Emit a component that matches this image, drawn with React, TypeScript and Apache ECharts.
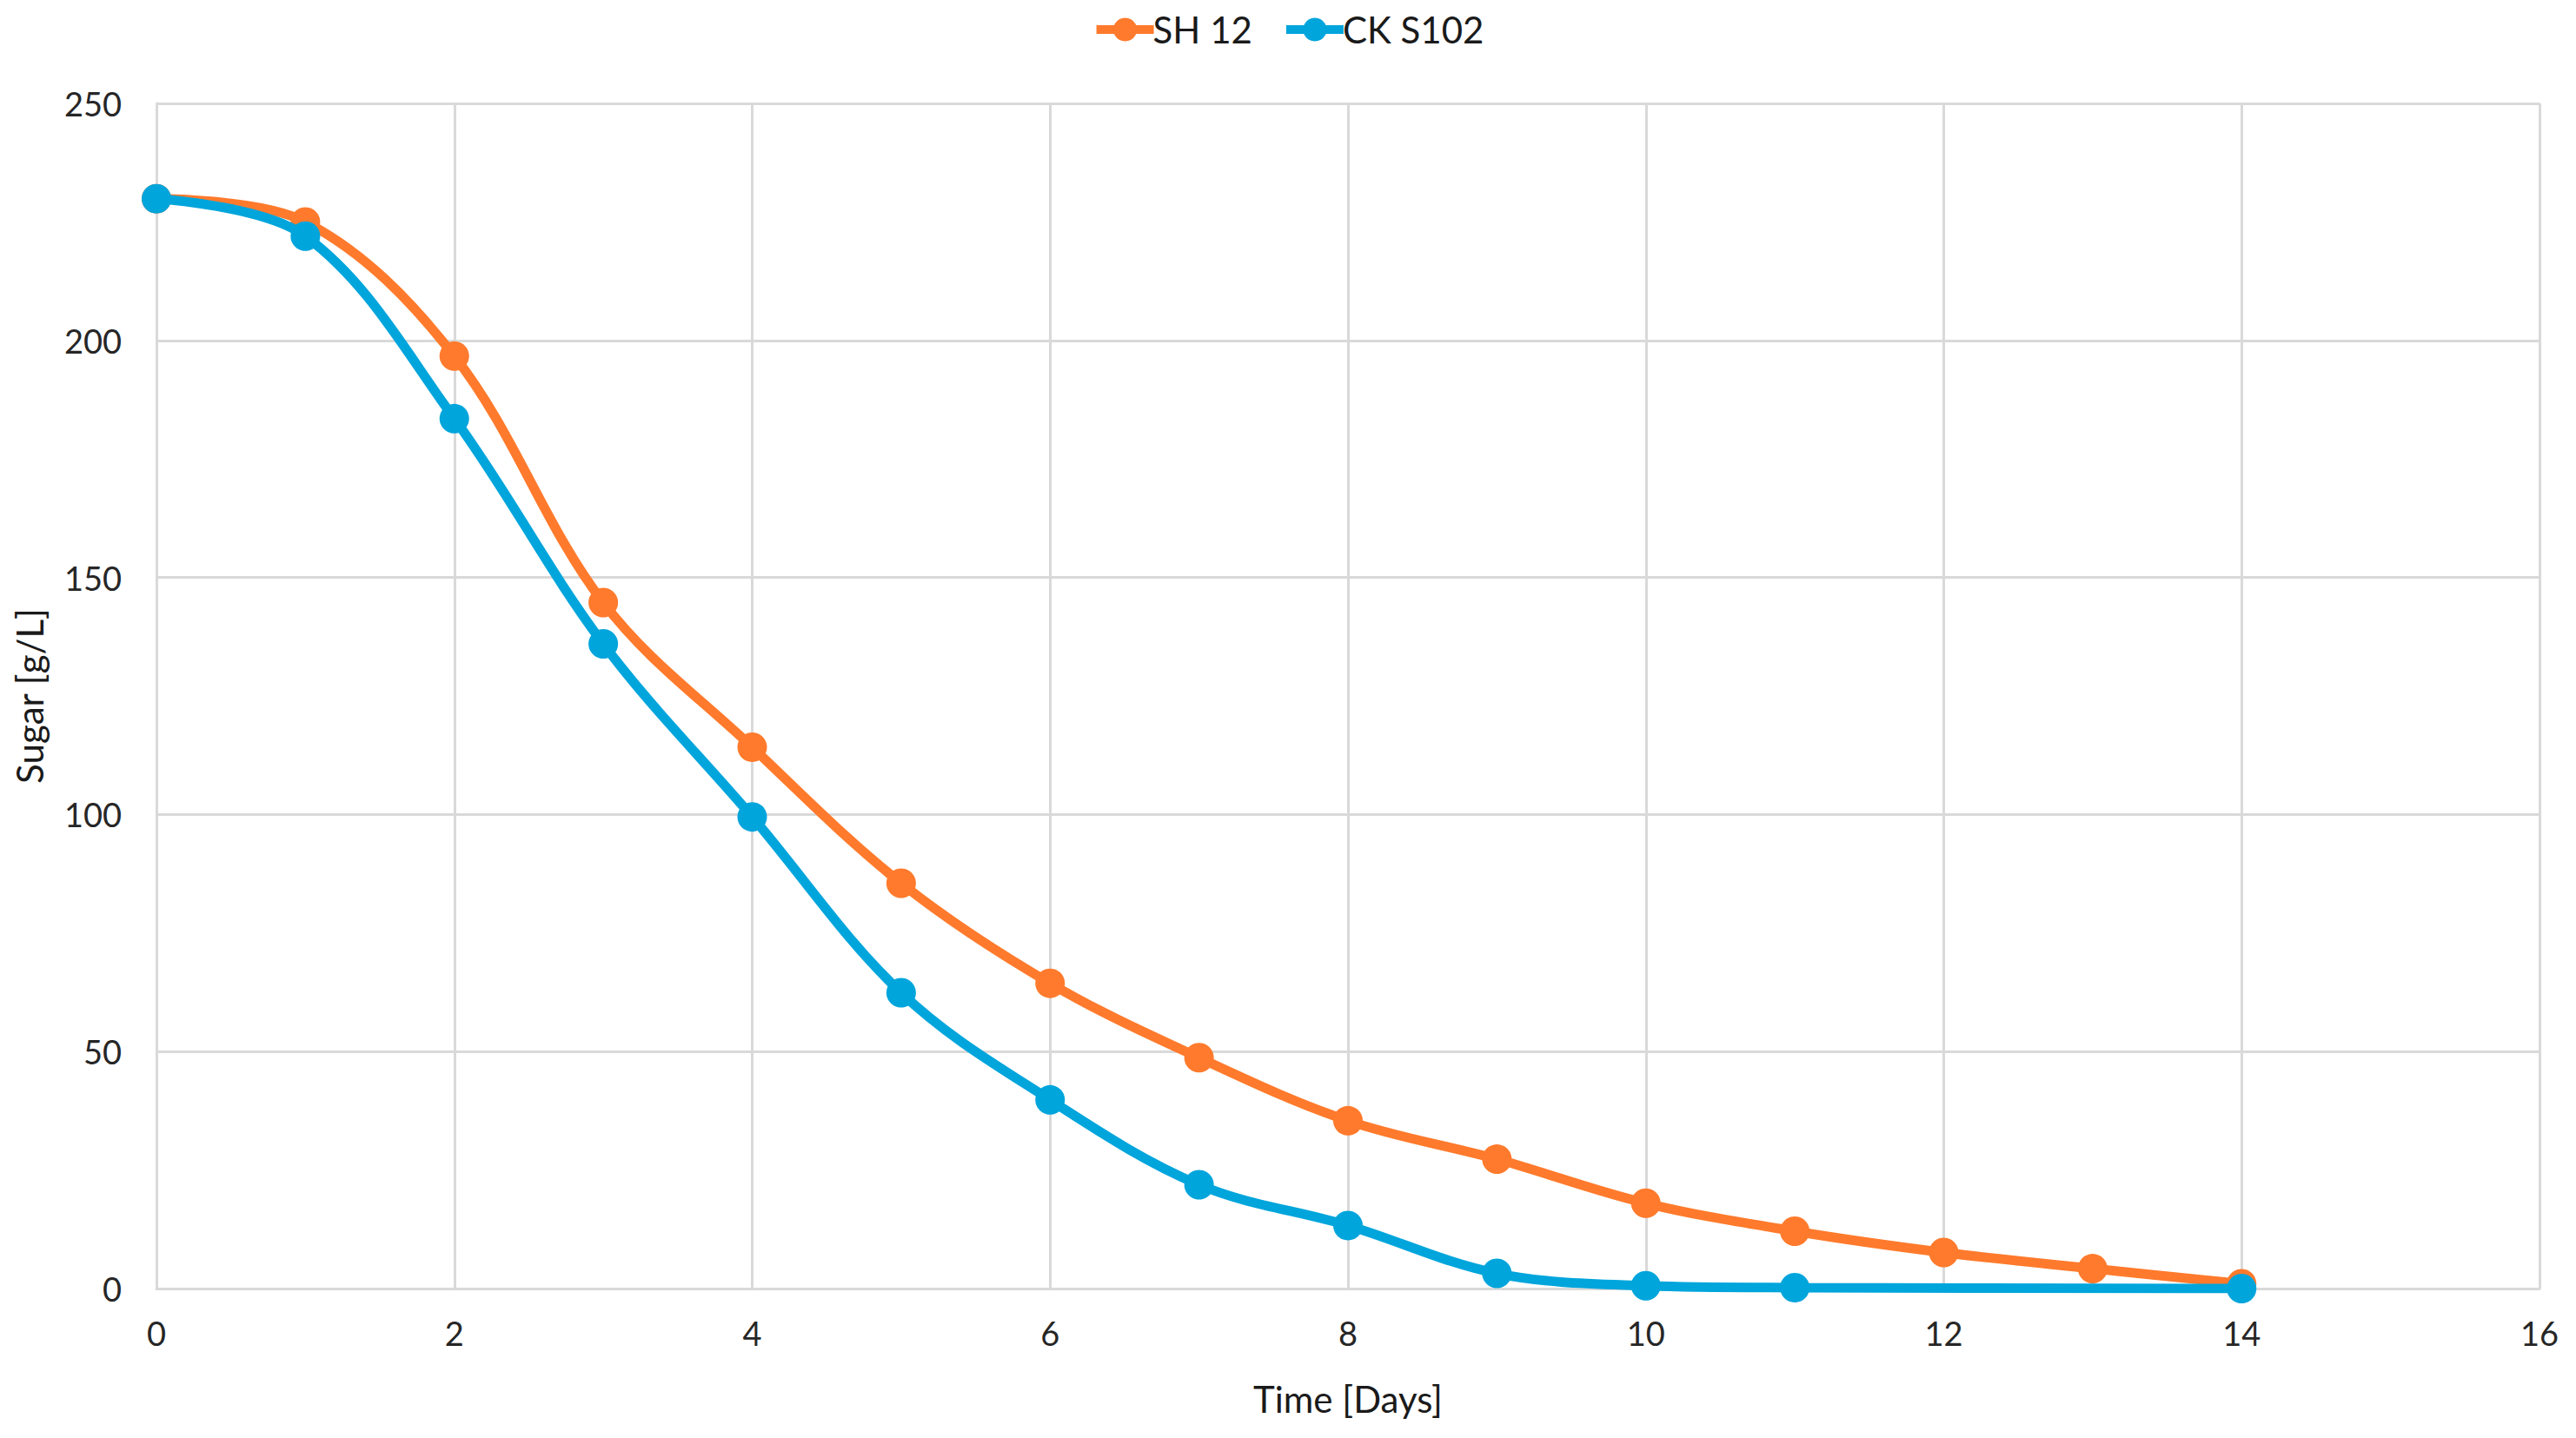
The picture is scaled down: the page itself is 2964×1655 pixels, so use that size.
import React, { useEffect, useRef } from "react";
import * as echarts from "echarts";

const daysSH = [0, 1, 2, 3, 4, 5, 6, 7, 8, 9, 10, 11, 12, 13, 14];
const sugarSH = [229.9, 225, 196.7, 144.7, 114.2, 85.5, 64.4, 48.7, 35.4, 27.3, 18, 12.1, 7.6, 4.2, 1];
const daysCK = [0, 1, 2, 3, 4, 5, 6, 7, 8, 9, 10, 11, 14];
const sugarCK = [229.9, 222, 183.5, 136, 99.5, 62.4, 39.8, 21.9, 13.3, 3.2, 0.6, 0.2, 0];

const xTickLabels = ["0", "2", "4", "6", "8", "10", "12", "14", "16"];
const yTickLabels = ["0", "50", "100", "150", "200", "250"];

const FONT = "Lato, 'Open Sans', sans-serif";

export default function App() {
  const ref = useRef<HTMLDivElement>(null);
  useEffect(() => {
    if (!ref.current) return;
    const chart = echarts.init(ref.current, undefined, { renderer: "svg" });
    const gridColor = "#D9D9D9";
    chart.setOption({
      animation: false,
      backgroundColor: "#ffffff",
      textStyle: { fontFamily: FONT },
      legend: {
        top: 8,
        left: "center",
        itemWidth: 66,
        itemHeight: 34,
        itemGap: 34,
        lineStyle: { width: 10 },
        textStyle: { fontSize: 42, color: "#1a1a1a", fontFamily: FONT, padding: [0, 0, 0, -6] },
        data: ["SH 12", "CK S102"],
      },
      grid: { left: 180, right: 42, top: 119, bottom: 172 },
      xAxis: {
        type: "value",
        min: 0,
        max: 16,
        interval: 2,
        name: "Time [Days]",
        nameLocation: "middle",
        nameGap: 106,
        nameTextStyle: { fontSize: 42, color: "#1a1a1a", fontFamily: FONT },
        axisLine: { show: true, lineStyle: { color: gridColor, width: 3 } },
        axisTick: { show: false },
        splitLine: { show: true, lineStyle: { color: gridColor, width: 3 } },
        axisLabel: {
          fontSize: 38,
          color: "#262626",
          margin: 32,
          fontFamily: FONT,
          formatter: (v: number) => xTickLabels[Math.round(v / 2)] ?? String(v),
        },
      },
      yAxis: {
        type: "value",
        min: 0,
        max: 250,
        interval: 50,
        name: "Sugar [g/L]",
        nameLocation: "middle",
        nameGap: 125,
        nameTextStyle: { fontSize: 42, color: "#1a1a1a", fontFamily: FONT },
        axisLine: { show: true, lineStyle: { color: gridColor, width: 3 } },
        axisTick: { show: false },
        splitLine: { show: true, lineStyle: { color: gridColor, width: 3 } },
        axisLabel: {
          fontSize: 38,
          color: "#262626",
          margin: 40,
          fontFamily: FONT,
          formatter: (v: number) => yTickLabels[Math.round(v / 50)] ?? String(v),
        },
      },
      series: [
        {
          name: "SH 12",
          type: "line",
          smooth: 0.35,
          symbol: "circle",
          symbolSize: 34,
          color: "#FF7A2C",
          lineStyle: { width: 11, color: "#FF7A2C" },
          itemStyle: { color: "#FF7A2C" },
          data: daysSH.map((d, i) => [d, sugarSH[i]]),
          z: 2,
        },
        {
          name: "CK S102",
          type: "line",
          smooth: 0.35,
          symbol: "circle",
          symbolSize: 34,
          color: "#00A5DC",
          lineStyle: { width: 11, color: "#00A5DC" },
          itemStyle: { color: "#00A5DC" },
          data: daysCK.map((d, i) => [d, sugarCK[i]]),
          z: 3,
        },
      ],
    });
    return () => chart.dispose();
  }, []);
  return (
    <div
      ref={ref}
      style={{ position: "absolute", left: 0, top: 0, width: 2964, height: 1655 }}
    />
  );
}
